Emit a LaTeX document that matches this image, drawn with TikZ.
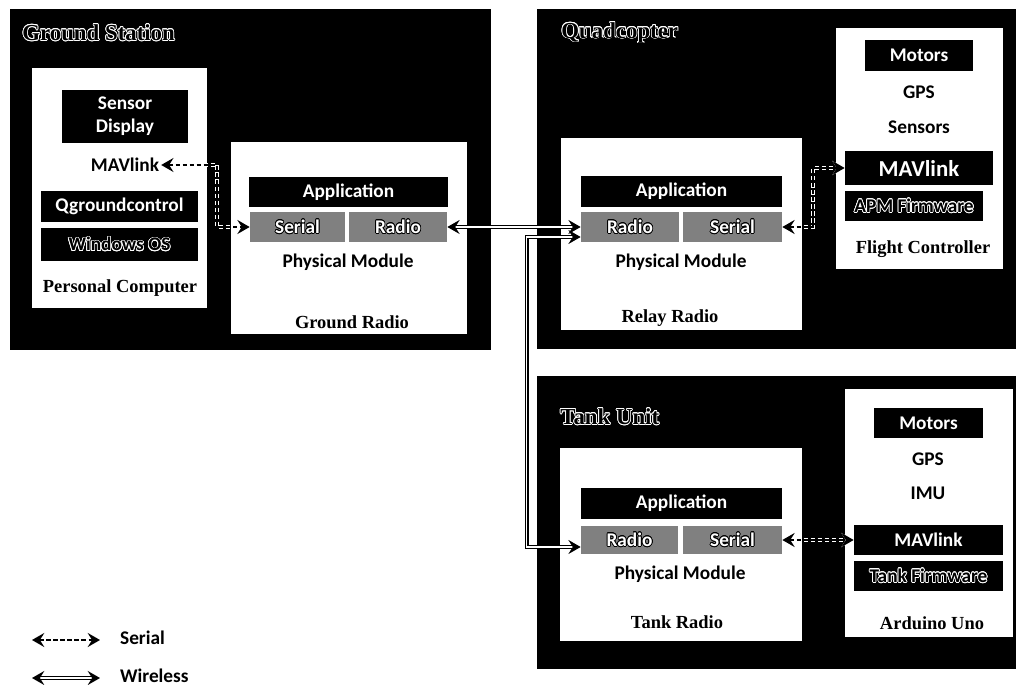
\documentclass[tikz,border=0pt]{standalone}
\usepackage{fontspec}
\setmainfont{Liberation Serif}
\newfontfamily\boxfont{Carlito}
\usepackage[copies]{contour}
\contourlength{0.4pt}
\usetikzlibrary{arrows.meta,calc}
\tikzset{
  sz/.style 2 args={minimum width=#1*0.02cm,minimum height=#2*0.02cm},
  blk/.style={fill=black,text=white,inner sep=0pt,font=\boxfont\bfseries\fontsize{11}{13}\selectfont},
  hol/.style={blk,text=black},
  gry/.style={blk,fill=black!50},
  lbl/.style={inner sep=1pt,font=\boxfont\bfseries\fontsize{11}{13}\selectfont},
  unitname/.style={inner sep=1pt,font=\bfseries\fontsize{10.5}{12}\selectfont},
  ttl/.style={anchor=west,inner sep=0pt,font=\bfseries\fontsize{13}{16}\selectfont},
  serial/.style={{Stealth[length=7pt,width=8pt,inset=2.5pt]}-{Stealth[length=7pt,width=8pt,inset=2.5pt]},
    line width=1pt,dash pattern=on 2.5pt off 1.5pt,
    preaction={draw=white,line width=2.2pt,dash pattern=on 2.5pt off 1.5pt}},
  wireless/.style={{Stealth[length=7pt,width=8pt,inset=2.5pt]}-{Stealth[length=7pt,width=8pt,inset=2.5pt]},
    line width=0.8pt,double=white,double distance=0.7pt}
}

\begin{document}
\begin{tikzpicture}[x=0.02cm,y=-0.02cm,>=Stealth]
\fill[white] (0,0) rectangle (1016,685);
\useasboundingbox (0,0) rectangle (1016,685);

% Ground Station
\fill (10,9) rectangle (491,350);
\node[ttl] (gstitle) at (22,33) {\contour{white}{Ground Station}};
\fill[white] (32,68) rectangle (207,308);
\node[blk,sz={126}{53},align=center] (gsdisp) at (125,116.5) {Sensor\\Display};
\node[lbl] (gsmav) at (125,165) {MAVlink};
\node[blk,sz={157}{31}] (gsqgc) at (119.5,206.5) {Qgroundcontrol};
\node[hol,sz={157}{33}] (gswin) at (119.5,244.5) {\contour{white}{Windows OS}};
\node[unitname] (gspc) at (120,288) {Personal Computer};
\fill[white] (231,142) rectangle (467,334);
\node[blk,sz={199}{30}] (grapp) at (348.5,192) {Application};
\node[gry,sz={95}{30}] (grser) at (297.5,227) {\contour{black}{Serial}};
\node[gry,sz={98}{30}] (grrad) at (398,227) {\contour{black}{Radio}};
\node[lbl] (grphy) at (348,262) {Physical Module};
\node[unitname] (grname) at (352,322) {Ground Radio};

% Quadcopter
\fill (537,9) rectangle (1016,349);
\node[ttl] (qctitle) at (561,33) {\contour{white}{Quadcopter}};
\fill[white] (836,28) rectangle (1003,269);
\node[blk,sz={108}{31}] (fcmot) at (919,55.5) {Motors};
\node[lbl] (fcgps) at (919,92) {GPS};
\node[lbl] (fcsen) at (919,127) {Sensors};
\node[blk,sz={148}{34},font=\boxfont\bfseries\fontsize{13}{15}\selectfont] (fcmav) at (919,168) {MAVlink};
\node[hol,sz={138}{30}] (fcapm) at (914,206) {\contour{white}{APM Firmware}};
\node[unitname] (fcname) at (923,249) {Flight Controller};
\fill[white] (561,138) rectangle (802,330);
\node[blk,sz={201}{31}] (rlapp) at (681.5,191.5) {Application};
\node[gry,sz={98}{30}] (rlrad) at (630,227) {\contour{black}{Radio}};
\node[gry,sz={99}{30}] (rlser) at (732.5,227) {\contour{black}{Serial}};
\node[lbl] (rlphy) at (681,262) {Physical Module};
\node[unitname] (rlname) at (670,318) {Relay Radio};

% Tank Unit
\fill (537,376) rectangle (1016,669);
\node[ttl] (tktitle) at (560,417) {\contour{white}{Tank Unit}};
\fill[white] (560,448) rectangle (802,641);
\node[blk,sz={201}{31}] (tkapp) at (681.5,503.5) {Application};
\node[gry,sz={97}{28}] (tkrad) at (629.5,540) {\contour{black}{Radio}};
\node[gry,sz={99}{28}] (tkser) at (732.5,540) {\contour{black}{Serial}};
\node[lbl] (tkphy) at (680,574) {Physical Module};
\node[unitname] (tkname) at (677,622) {Tank Radio};
\fill[white] (845,389) rectangle (1013,637);
\node[blk,sz={109}{30}] (aumot) at (928.5,423) {Motors};
\node[lbl] (augps) at (928,459) {GPS};
\node[lbl] (auimu) at (928,493) {IMU};
\node[blk,sz={149}{30}] (aumav) at (928.5,540) {MAVlink};
\node[hol,sz={149}{30}] (aufw) at (928.5,576) {\contour{white}{Tank Firmware}};
\node[unitname] (auname) at (932,623) {Arduino Uno};

% links
\draw[serial] (gsmav.east) -- ++(56,0) |- (grser.west);
\draw[serial] (rlser.east) -- ++(31,0) |- (fcmav.west);
\draw[serial] (tkser.east) -- (aumav.west);
\draw[wireless] (grrad.east) -- (rlrad.west);
\draw[wireless] ($(rlrad.west)+(0,10)$) -- ++(-54,0) |- ($(tkrad.west)+(0,7)$);

% legend
\coordinate (serA) at (32,640);
\coordinate (serB) at (100,640);
\draw[serial] (serA) -- (serB);
\node[lbl,anchor=west] (serkey) at (118,638) {Serial};
\coordinate (wlA) at (32,678);
\coordinate (wlB) at (100,678);
\draw[wireless] (wlA) -- (wlB);
\node[lbl,anchor=west] (wlkey) at (118,676) {Wireless};
\end{tikzpicture}
\end{document}
